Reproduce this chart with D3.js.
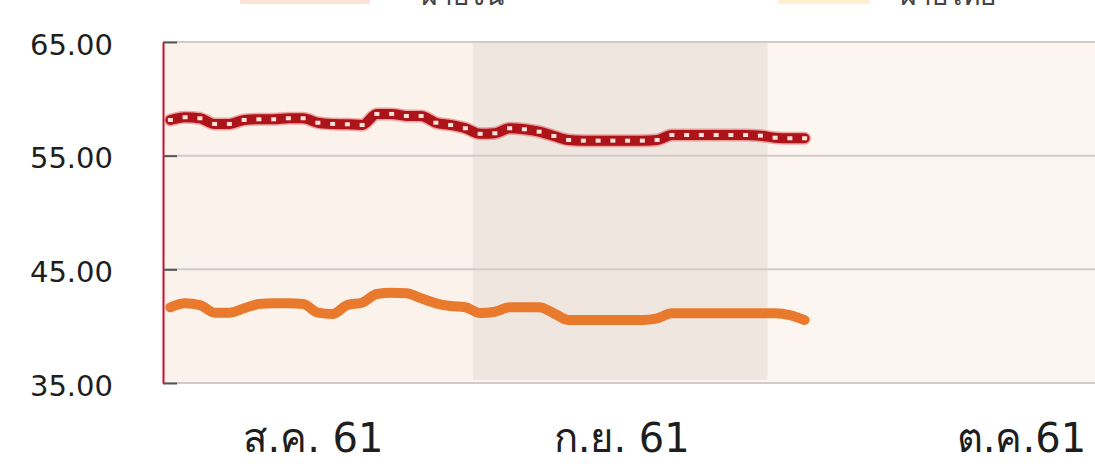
<!DOCTYPE html>
<html>
<head>
<meta charset="utf-8">
<script src="https://cdn.jsdelivr.net/npm/d3@7"></script>
<style>
  html, body { margin: 0; padding: 0; background: #fff; overflow: hidden; }
  svg { display: block; }
  text { font-family: Tahoma, "DejaVu Sans", "Noto Sans", sans-serif; }
</style>
</head>
<body>
<div id="chartArea"></div>
<script>
// trading days per month (Aug, Sep, Oct 2018)
let months = ['ส.ค. 61', 'ก.ย. 61', 'ต.ค.61']
let monthDays = [21, 20, 3]
let monthLabelAt = [10.2, 31.1, 58.2]

let redValues = [58.14, 58.38, 58.29, 57.79, 57.79, 58.14, 58.20, 58.20, 58.29, 58.29,
                 57.90, 57.79, 57.76, 57.70, 58.67, 58.67, 58.49, 58.49, 57.90, 57.70,
                 57.41, 56.92, 56.97, 57.41, 57.32, 57.11, 56.73, 56.38, 56.32, 56.32,
                 56.32, 56.32, 56.32, 56.38, 56.82, 56.82, 56.82, 56.82, 56.82, 56.82,
                 56.76, 56.58, 56.53, 56.53]

let orangeValues = [41.66, 42.01, 41.86, 41.19, 41.19, 41.57, 41.95, 42.01, 42.01, 41.95,
                    41.19, 41.07, 41.86, 42.07, 42.83, 42.94, 42.89, 42.45, 42.01, 41.77,
                    41.66, 41.16, 41.27, 41.66, 41.66, 41.66, 41.13, 40.54, 40.54, 40.54,
                    40.54, 40.54, 40.54, 40.69, 41.13, 41.13, 41.13, 41.13, 41.13, 41.13,
                    41.13, 41.13, 40.98, 40.54]

let yTicks = [35, 45, 55, 65]
let legendNames = ['ฝ่ายจีน', 'ฝ่ายไทย']

let svgWidth = 1095
let svgHeight = 473
let plotLeft = 163, plotTop = 42, plotBottom = 383

let xScale = d3.scaleLinear()
              .domain([0, 1])
              .range([plotLeft, plotLeft + 14.75])

let yScale = d3.scaleLinear()
              .domain([35, 65])
              .range([plotBottom, plotTop])

let svg = d3.select('#chartArea')
    .append('svg')
    .attr('width', svgWidth)
    .attr('height', svgHeight)

// legend strip (cut off at the top, as in the source image)
let legend = svg.append('g')
legend.append('rect')
    .attr('x', 240).attr('y', -6).attr('width', 130).attr('height', 10)
    .attr('fill', '#fbe4d6')
legend.append('rect')
    .attr('x', 778).attr('y', -6).attr('width', 92).attr('height', 10)
    .attr('fill', '#fdf0cc')
legend.selectAll('text.leg')
    .data(legendNames)
    .enter()
    .append('text')
    .attr('class', 'leg')
    .attr('x', (d, i) => i == 0 ? 462 : 948)
    .attr('y', 5)
    .attr('text-anchor', 'middle')
    .attr('font-size', 28)
    .attr('fill', '#444')
    .text(d => d)

// plot background
svg.append('rect')
    .attr('x', plotLeft).attr('y', plotTop)
    .attr('width', svgWidth - plotLeft).attr('height', plotBottom - plotTop)
    .attr('fill', '#fdf4ef')

// month bands
let starts = monthDays.map((d, i) => d3.sum(monthDays.slice(0, i)))
svg.selectAll('rect.band')
    .data(months)
    .enter()
    .append('rect')
    .attr('class', 'band')
    .attr('x', (d, i) => xScale(starts[i]))
    .attr('y', plotTop)
    .attr('width', (d, i) => i == months.length - 1 ? svgWidth - xScale(starts[i]) : xScale(starts[i] + monthDays[i]) - xScale(starts[i]))
    .attr('height', plotBottom - plotTop - 3)
    .attr('fill', (d, i) => i == 1 ? '#efe6df' : (i == 2 ? '#fdf5f0' : '#fcf2ec'))

// gridlines
svg.selectAll('line.grid')
    .data(yTicks)
    .enter()
    .append('line')
    .attr('class', 'grid')
    .attr('x1', plotLeft).attr('x2', svgWidth)
    .attr('y1', d => yScale(d)).attr('y2', d => yScale(d))
    .attr('stroke', '#d2cbc7')
    .attr('stroke-width', 2)

// y axis
let yAxis = svg.append('g')
    .attr('transform', `translate(${plotLeft},0)`)
    .call(d3.axisLeft(yScale)
      .tickValues(yTicks)
      .tickFormat(d3.format('.2f'))
      .tickSizeInner(-14)
      .tickSizeOuter(0)
      .tickPadding(50))
yAxis.select('.domain').attr('stroke', '#c8102e').attr('stroke-width', 2)
yAxis.selectAll('.tick line').attr('stroke', '#555').attr('stroke-width', 2)
yAxis.selectAll('.tick text')
    .attr('font-size', 29)
    .attr('fill', '#1e1e1e')
    .attr('dy', '0.42em')
    .style('font-family', 'Tahoma, "DejaVu Sans", sans-serif')

// x labels
svg.selectAll('text.month')
    .data(months)
    .enter()
    .append('text')
    .attr('class', 'month')
    .attr('x', (d, i) => xScale(monthLabelAt[i]))
    .attr('y', 452)
    .attr('text-anchor', 'middle')
    .attr('font-size', 40)
    .attr('fill', '#1e1e1e')
    .text(d => d)

// lines
let line = d3.line()
    .x((d, i) => xScale(i + 0.5))
    .y(d => yScale(d))
    .curve(d3.curveMonotoneX)

svg.append('path')
    .datum(orangeValues)
    .attr('d', line)
    .attr('fill', 'none')
    .attr('stroke', '#e8792d')
    .attr('stroke-width', 10)
    .attr('stroke-linejoin', 'round')
    .attr('stroke-linecap', 'round')

svg.append('path')
    .datum(redValues)
    .attr('d', line)
    .attr('fill', 'none')
    .attr('stroke', '#e05a5a')
    .attr('stroke-opacity', 0.5)
    .attr('stroke-width', 13)
    .attr('stroke-linejoin', 'round')
    .attr('stroke-linecap', 'round')

svg.append('path')
    .datum(redValues)
    .attr('d', line)
    .attr('fill', 'none')
    .attr('stroke', '#ad1419')
    .attr('stroke-width', 10)
    .attr('stroke-linejoin', 'round')
    .attr('stroke-linecap', 'round')

svg.selectAll('rect.marker')
    .data(redValues)
    .enter()
    .append('rect')
    .attr('class', 'marker')
    .attr('x', (d, i) => xScale(i + 0.5) - 2.5)
    .attr('y', d => yScale(d) - 2)
    .attr('width', 5)
    .attr('height', 4)
    .attr('fill', '#fbe3dc')
</script>
</body>
</html>
